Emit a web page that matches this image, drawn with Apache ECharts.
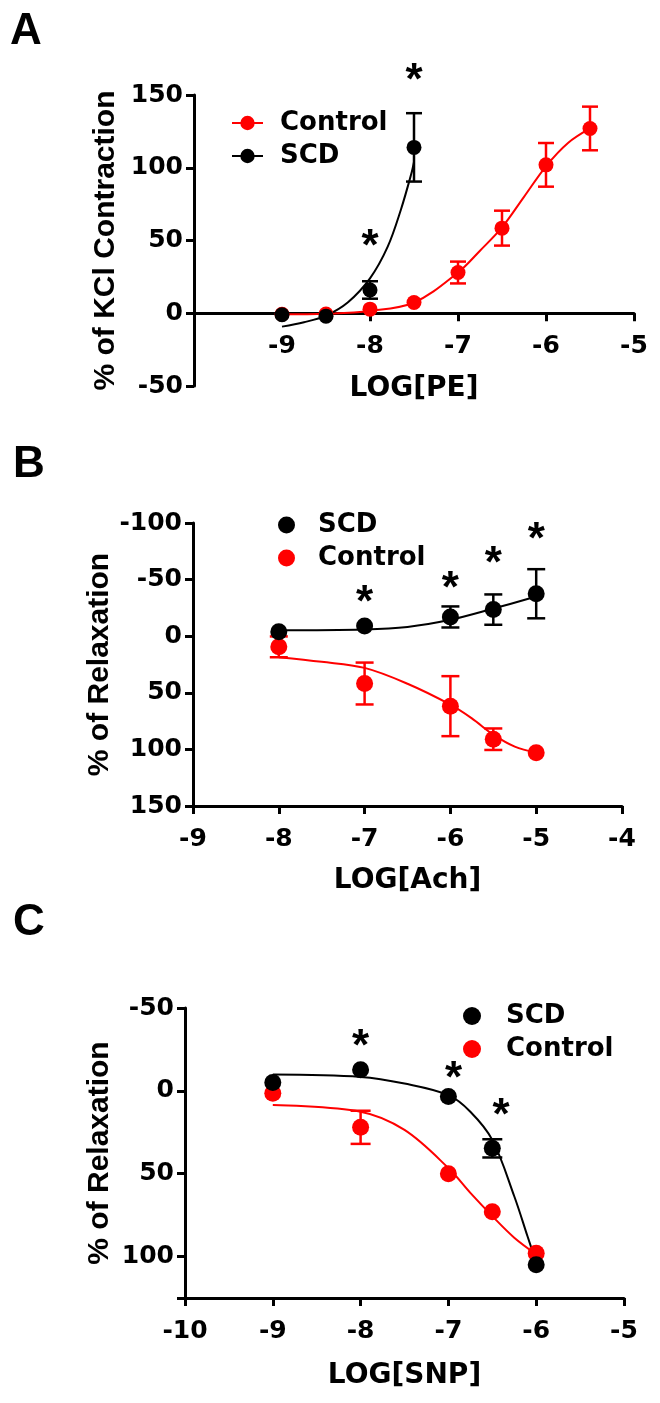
<!DOCTYPE html>
<html>
<head>
<meta charset="utf-8">
<script src="https://cdn.jsdelivr.net/npm/echarts@6/dist/echarts.min.js"></script>
<style>
html,body{margin:0;padding:0;background:#fff;}
#chart{width:660px;height:1403px;}
</style>
</head>
<body>
<div id="chart"></div>
<script>
// ---------- Panel A : LOG[PE] ----------
const aX = [-9, -8.5, -8, -7.5, -7, -6.5, -6, -5.5];
const aControlMean = [-0.7, -0.5, 2.8, 7.4, 28, 58.5, 102, 127];
const aControlErr = [0, 0, 0, 0, 7.5, 12, 15, 15];
const aScdX = [-9, -8.5, -8, -7.5];
const aScdMean = [-1, -2, 16, 114];
const aScdErr = [0, 0, 6, 23.5];
const aControlFitX = [-9, -8.5, -8, -7.5, -7, -6.75, -6.5, -6.25, -6, -5.75, -5.5];
const aControlFitY = [-0.7, -0.3, 1.6, 7.4, 28, 43, 59, 80, 101, 117, 127];
const aScdFitX = [-9, -8.75, -8.5, -8.25, -8, -7.8, -7.65, -7.53, -7.5];
const aScdFitY = [-9.2, -6.2, -1.6, 7.6, 24, 45.6, 71, 96, 104];
const aStarX = [-8, -7.5];
const aStarY = [52, 166];

// ---------- Panel B : LOG[Ach] ----------
const bX = [-8, -7, -6, -5.5, -5];
const bScdMean = [-4, -9, -17, -23.5, -37.5];
const bScdErr = [0, 0, 9.3, 13.4, 21.7];
const bControlMean = [9.4, 41.8, 61.8, 91, 103];
const bControlErr = [9.2, 18.5, 26.5, 9.5, 0];
const bScdFitX = [-8, -7, -6.5, -6, -5.5, -5];
const bScdFitY = [-5.3, -6, -8.2, -14.5, -24.4, -35];
const bControlFitX = [-8, -7.5, -7, -6.5, -6, -5.75, -5.5, -5.25, -5];
const bControlFitY = [18.5, 22.6, 28, 42, 60.5, 72.6, 87, 97.6, 103];
const bStarX = [-7, -6, -5.5, -5];
const bStarY = [-37, -50, -72, -93];

// ---------- Panel C : LOG[SNP] ----------
const cX = [-9, -8, -7, -6.5, -6];
const cScdMean = [-5, -12.7, 3.4, 34.7, 105];
const cScdErr = [0, 0, 0, 5.5, 0];
const cControlMean = [1.4, 22, 50, 73, 98];
const cControlErr = [0, 10, 0, 0, 0];
const cScdFitX = [-9, -8, -7.5, -7, -6.75, -6.5, -6.25, -6.1, -6];
const cScdFitY = [-9.8, -8.4, -4.4, 2.6, 12.6, 29.6, 63.6, 87.6, 103.6];
const cControlFitX = [-9, -8, -7.5, -7, -6.75, -6.5, -6.25, -6];
const cControlFitY = [8.6, 12.6, 23.6, 46.6, 61.6, 75.6, 88.6, 98.6];
const cStarX = [-8, -6.94, -6.4];
const cStarY = [-32, -12.6, 9.6];

// ---------- style constants ----------
const RED = '#ff0000';
const BLACK = '#000000';
const HFONT = 'DejaVu Sans';
const VFONT = 'Liberation Sans';

const zip = (xs, ys) => xs.map((x, i) => [x, ys[i]]);

function fitLine(name, xi, xs, ys, color) {
  return {
    name, type: 'line', xAxisIndex: xi, yAxisIndex: xi,
    data: zip(xs, ys), smooth: 0.35, showSymbol: false,
    symbol: 'circle', symbolSize: 15,
    lineStyle: { color, width: 2 }, itemStyle: { color },
    z: 2, silent: true
  };
}
function points(name, xi, xs, ys, color, size) {
  return {
    name, type: 'scatter', xAxisIndex: xi, yAxisIndex: xi,
    data: zip(xs, ys), symbol: 'circle', symbolSize: size,
    itemStyle: { color, opacity: 1 }, z: 4
  };
}
function errorBars(name, xi, xs, means, errs, color, hw) {
  const data = xs.map((x, i) => [x, means[i] - errs[i], means[i] + errs[i]])
                 .filter(d => d[2] > d[1]);
  return {
    name, type: 'custom', xAxisIndex: xi, yAxisIndex: xi, data, z: 3,
    encode: { x: 0, y: [1, 2] },
    renderItem(params, api) {
      const x = api.value(0);
      const p1 = api.coord([x, api.value(1)]);
      const p2 = api.coord([x, api.value(2)]);
      const style = { stroke: color, lineWidth: 2.5 };
      return {
        type: 'group', children: [
          { type: 'line', shape: { x1: p1[0], y1: p1[1], x2: p2[0], y2: p2[1] }, style },
          { type: 'line', shape: { x1: p1[0] - hw, y1: p1[1], x2: p1[0] + hw, y2: p1[1] }, style },
          { type: 'line', shape: { x1: p2[0] - hw, y1: p2[1], x2: p2[0] + hw, y2: p2[1] }, style }
        ]
      };
    }
  };
}
function stars(xi, xs, ys) {
  return {
    type: 'scatter', xAxisIndex: xi, yAxisIndex: xi, clip: false,
    data: zip(xs, ys), symbol: 'circle', symbolSize: 2,
    itemStyle: { color: 'rgba(0,0,0,0)' }, z: 5, silent: true,
    label: {
      show: true, position: 'inside', formatter: '*', offset: [0, 10],
      fontFamily: VFONT, fontWeight: 'bold', fontSize: 44, color: BLACK,
      opacity: 1, textBorderWidth: 0
    }
  };
}

const axisLineStyle = { show: true, lineStyle: { color: BLACK, width: 3 } };
const tickStyle = { show: true, length: 8, lineStyle: { color: BLACK, width: 3 } };
const hLabel = { fontFamily: HFONT, fontWeight: 'bold', fontSize: 25, color: BLACK };

function xAxisDef(gi, min, max, name, hideMin, nameGap, offset) {
  return {
    type: 'value', gridIndex: gi, min, max, interval: 1, offset,
    axisLine: Object.assign({}, axisLineStyle, { onZero: false }),
    axisTick: tickStyle, splitLine: { show: false },
    axisLabel: Object.assign({}, hLabel, {
      margin: 21,
      formatter: v => (hideMin && v === min) ? '' : String(v)
    }),
    name, nameLocation: 'middle', nameGap, nameMoveOverlap: false,
    nameTextStyle: { fontFamily: HFONT, fontWeight: 'bold', fontSize: 28, color: BLACK }
  };
}
function yAxisDef(gi, min, max, inverse, name, nameGap) {
  return {
    type: 'value', gridIndex: gi, min, max, interval: 50, inverse,
    axisLine: Object.assign({}, axisLineStyle, { onZero: false }),
    axisTick: tickStyle, splitLine: { show: false },
    axisLabel: Object.assign({}, hLabel, {
      margin: 11,
      formatter: v => (v % 50 === 0) ? String(v) : ''
    }),
    name, nameLocation: 'middle', nameRotate: 90, nameGap, nameMoveOverlap: false,
    nameTextStyle: { fontFamily: VFONT, fontWeight: 'bold', fontSize: 30, color: BLACK }
  };
}
const legendText = { fontFamily: HFONT, fontWeight: 'bold', fontSize: 26, color: BLACK };

const chart = echarts.init(document.getElementById('chart'), null, { renderer: 'canvas' });
chart.setOption({
  backgroundColor: '#ffffff',
  animation: false,
  title: [
    { text: 'A', left: 5, top: 5, textStyle: { fontFamily: VFONT, fontWeight: 'bold', fontSize: 44, color: BLACK } },
    { text: 'B', left: 8, top: 438, textStyle: { fontFamily: VFONT, fontWeight: 'bold', fontSize: 44, color: BLACK } },
    { text: 'C', left: 8, top: 896, textStyle: { fontFamily: VFONT, fontWeight: 'bold', fontSize: 44, color: BLACK } }
  ],
  grid: [
    { left: 194, top: 95, width: 440, height: 291 },
    { left: 193, top: 523, width: 429, height: 283 },
    { left: 185, top: 1008, width: 439, height: 290 }
  ],
  xAxis: [
    xAxisDef(0, -10, -5, 'LOG[PE]', true, 61, -72.75),
    xAxisDef(1, -9, -4, 'LOG[Ach]', false, 61, 0),
    xAxisDef(2, -10, -5, 'LOG[SNP]', false, 64, 0)
  ],
  yAxis: [
    yAxisDef(0, -50, 150, false, '% of KCl Contraction', 73),
    yAxisDef(1, -100, 150, true, '% of Relaxation', 78),
    yAxisDef(2, -50, 125, true, '% of Relaxation', 70)
  ],
  legend: [
    { data: ['Control', 'SCD'], orient: 'vertical', left: 226, top: 105,
      itemWidth: 31, itemHeight: 18, itemGap: 7, selectedMode: false,
      textStyle: Object.assign({ padding: [0, 0, 0, 12] }, legendText) },
    { data: [{ name: 'SCD', icon: 'circle' }, { name: 'Control', icon: 'circle' }],
      orient: 'vertical', left: 273, top: 507,
      itemWidth: 17, itemHeight: 17, itemGap: 7, selectedMode: false,
      textStyle: Object.assign({ padding: [0, 0, 0, 18] }, legendText) },
    { data: [{ name: 'SCD', icon: 'circle' }, { name: 'Control', icon: 'circle' }],
      orient: 'vertical', left: 458, top: 998,
      itemWidth: 18, itemHeight: 18, itemGap: 7, selectedMode: false,
      textStyle: Object.assign({ padding: [0, 0, 0, 20] }, legendText) }
  ],
  series: [
    // Panel A
    fitLine('Control', 0, aControlFitX, aControlFitY, RED),
    fitLine('SCD', 0, aScdFitX, aScdFitY, BLACK),
    errorBars('Control', 0, aX, aControlMean, aControlErr, RED, 8),
    errorBars('SCD', 0, aScdX, aScdMean, aScdErr, BLACK, 8),
    points('Control', 0, aX, aControlMean, RED, 15),
    points('SCD', 0, aScdX, aScdMean, BLACK, 15),
    stars(0, aStarX, aStarY),
    // Panel B
    fitLine('Control', 1, bControlFitX, bControlFitY, RED),
    fitLine('SCD', 1, bScdFitX, bScdFitY, BLACK),
    errorBars('Control', 1, bX, bControlMean, bControlErr, RED, 9),
    errorBars('SCD', 1, bX, bScdMean, bScdErr, BLACK, 9),
    points('Control', 1, bX, bControlMean, RED, 17),
    points('SCD', 1, bX, bScdMean, BLACK, 17),
    stars(1, bStarX, bStarY),
    // Panel C
    fitLine('Control', 2, cControlFitX, cControlFitY, RED),
    fitLine('SCD', 2, cScdFitX, cScdFitY, BLACK),
    errorBars('Control', 2, cX, cControlMean, cControlErr, RED, 10),
    errorBars('SCD', 2, cX, cScdMean, cScdErr, BLACK, 10),
    points('Control', 2, cX, cControlMean, RED, 17),
    points('SCD', 2, cX, cScdMean, BLACK, 17),
    stars(2, cStarX, cStarY)
  ]
});
</script>
</body>
</html>
